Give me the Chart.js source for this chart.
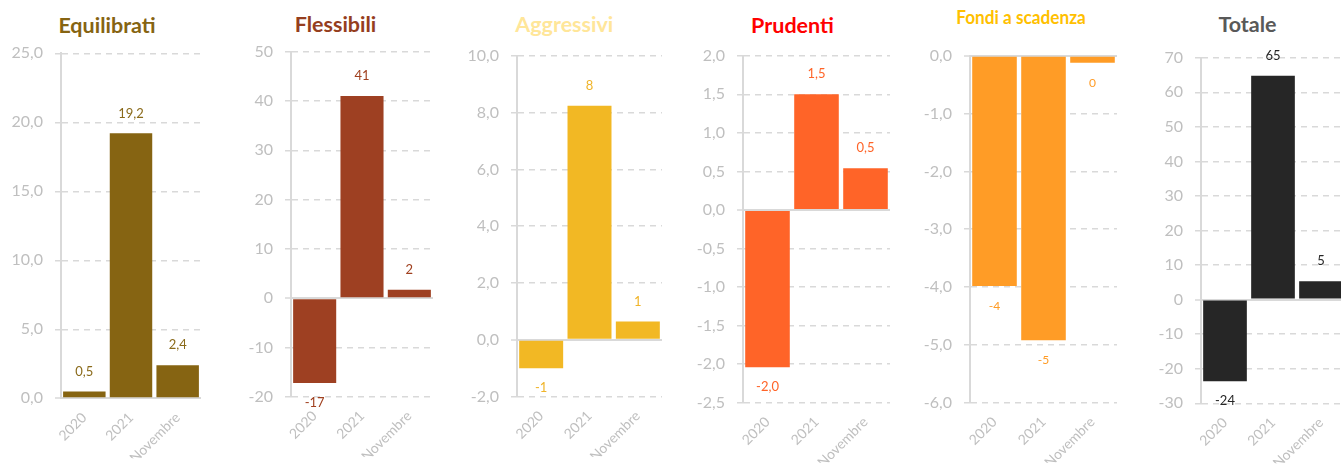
<!DOCTYPE html>
<html>
<head>
<meta charset="utf-8">
<script src="https://cdn.jsdelivr.net/npm/chart.js@4.4.1/dist/chart.umd.min.js"></script>
<style>
  html, body { margin: 0; padding: 0; background: #ffffff; overflow: hidden; }
  #wrap { position: relative; width: 1341px; height: 468px; overflow: hidden; }
  #wrap canvas { position: absolute; top: 0; }
  .title {
    position: absolute;
    font-family: Lato, "Open Sans", sans-serif;
    font-weight: 700;
    line-height: 1;
    white-space: nowrap;
    transform: translateX(-50%);
  }
</style>
</head>
<body>
<div id="wrap"></div>
<script>
// Categories shared by every small chart
const categories = ['2020', '2021', 'Novembre'];

// Net flows per fund type (billions of euro)
const equilibratiValues = [0.5, 19.2, 2.4];
const flessibiliValues = [-17.2, 41.0, 1.7];
const aggressiviValues = [-1.0, 8.24, 0.65];
const prudentiValues = [-2.04, 1.5, 0.54];
const scadenzaValues = [-3.98, -4.92, -0.12];
const totaleValues = [-23.6, 64.8, 5.3];

// Y axis tick values per chart
const equilibratiTicks = [0, 5, 10, 15, 20, 25];
const flessibiliTicks = [-20, -10, 0, 10, 20, 30, 40, 50];
const aggressiviTicks = [-2, 0, 2, 4, 6, 8, 10];
const prudentiTicks = [-2.5, -2, -1.5, -1, -0.5, 0, 0.5, 1, 1.5, 2];
const scadenzaTicks = [-6, -5, -4, -3, -2, -1, 0];
const totaleTicks = [-30, -20, -10, 0, 10, 20, 30, 40, 50, 60, 70];

// Chart titles
const titles = ['Equilibrati', 'Flessibili', 'Aggressivi', 'Prudenti', 'Fondi a scadenza', 'Totale'];

// Italian number format: comma as decimal separator, no "-0"
function fmt(v, decimals) {
  const k = Math.pow(10, decimals);
  let r = Math.round(v * k) / k;
  if (r === 0) r = 0;
  return r.toFixed(decimals).replace('.', ',');
}

const Y_AXIS_W = 60;
const X_AXIS_H = 60;
const H = 468;
const GRID = '#d9d9d9';
const TICK_TEXT = '#bfbfbf';

const panels = [
  { values: equilibratiValues, ticks: equilibratiTicks, tickDec: 1, labelDec: 1,
    bar: '#866412', label: '#8a6a1a', titleColor: '#866412', titleSize: 21.5, titleX: 107, titleTop: 14.5,
    axisX: 61, plotW: 140, top: 53.3, bottom: 398.3, labelSize: 13 },
  { values: flessibiliValues, ticks: flessibiliTicks, tickDec: 0, labelDec: 0,
    bar: '#9e4022', label: '#a0401f', titleColor: '#953e1e', titleSize: 21.5, titleX: 335.5, titleTop: 13.5,
    axisX: 291, plotW: 142, top: 51.7, bottom: 396.7, labelSize: 13 },
  { values: aggressiviValues, ticks: aggressiviTicks, tickDec: 1, labelDec: 0,
    bar: '#f2b824', label: '#f0b429', titleColor: '#ffe699', titleSize: 21.5, titleX: 564.3, titleTop: 14,
    axisX: 517, plotW: 145, top: 55.7, bottom: 396.7, labelSize: 13 },
  { values: prudentiValues, ticks: prudentiTicks, tickDec: 1, labelDec: 1,
    bar: '#ff6428', label: '#ff6428', titleColor: '#ff0000', titleSize: 21.5, titleX: 792.5, titleTop: 14.5,
    axisX: 743.3, plotW: 147, top: 55.7, bottom: 402.7, labelSize: 13 },
  { values: scadenzaValues, ticks: scadenzaTicks, tickDec: 1, labelDec: 0,
    bar: '#ff9c26', label: '#ff9c26', titleColor: '#ffc000', titleSize: 18.5, titleX: 1020.5, titleTop: 7.5,
    axisX: 970, plotW: 147, top: 55.7, bottom: 402.7, labelSize: 12, titleSqueeze: 0.93 },
  { values: totaleValues, ticks: totaleTicks, tickDec: 0, labelDec: 0,
    bar: '#262626', label: '#262626', titleColor: '#595959', titleSize: 21.5, titleX: 1247.5, titleTop: 13.5,
    axisX: 1201, plotW: 144, top: 57.7, bottom: 403.3, labelSize: 13 }
];

// Value written 20px beyond the end of each bar
const valueLabels = {
  id: 'valueLabels',
  afterDatasetsDraw(chart, args, opts) {
    const { ctx } = chart;
    const meta = chart.getDatasetMeta(0);
    const data = chart.data.datasets[0].data;
    ctx.save();
    ctx.font = opts.size + 'px Lato, "Open Sans", sans-serif';
    ctx.fillStyle = opts.color;
    ctx.textAlign = 'center';
    ctx.textBaseline = 'middle';
    meta.data.forEach((bar, i) => {
      const v = data[i];
      const y = v >= 0 ? bar.y - 20 : bar.y + 20;
      ctx.fillText(fmt(v, opts.decimals), bar.x, y);
    });
    ctx.restore();
  }
};

const wrap = document.getElementById('wrap');

panels.forEach((p, idx) => {
  const title = document.createElement('div');
  title.className = 'title';
  title.textContent = titles[idx];
  title.style.left = p.titleX + 'px';
  title.style.top = p.titleTop + 'px';
  title.style.fontSize = p.titleSize + 'px';
  title.style.color = p.titleColor;
  if (p.titleSqueeze) {
    title.style.transform = 'translateX(-50%) scaleX(' + p.titleSqueeze + ')';
  }
  wrap.appendChild(title);

  const w = Y_AXIS_W + p.plotW + 2;
  const cv = document.createElement('canvas');
  cv.width = w;
  cv.height = H;
  cv.style.width = w + 'px';
  cv.style.height = H + 'px';
  cv.style.left = (p.axisX - Y_AXIS_W) + 'px';
  wrap.appendChild(cv);

  const isZero = (ctx) => ctx.tick && Math.abs(ctx.tick.value) < 1e-9;

  new Chart(cv, {
    type: 'bar',
    data: {
      labels: categories,
      datasets: [{
        data: p.values,
        backgroundColor: p.bar,
        borderWidth: 0,
        barPercentage: 0.91,
        categoryPercentage: 1
      }]
    },
    options: {
      responsive: false,
      animation: false,
      devicePixelRatio: 1,
      layout: { padding: { top: p.top, bottom: H - p.bottom - X_AXIS_H, left: 0, right: 2 } },
      plugins: {
        legend: { display: false },
        tooltip: { enabled: false },
        valueLabels: { color: p.label, decimals: p.labelDec, size: p.labelSize }
      },
      scales: {
        x: {
          grid: { display: false, drawTicks: false },
          border: { display: false },
          ticks: {
            color: TICK_TEXT,
            font: { family: 'Lato', size: 14 },
            minRotation: 45,
            maxRotation: 45,
            autoSkip: false,
            padding: 11
          },
          afterFit(scale) { scale.height = X_AXIS_H; }
        },
        y: {
          min: p.ticks[0],
          max: p.ticks[p.ticks.length - 1],
          afterBuildTicks(scale) { scale.ticks = p.ticks.map(v => ({ value: v })); },
          ticks: {
            color: TICK_TEXT,
            font: { family: 'Lato', size: 16 },
            padding: 12,
            callback: (v) => fmt(v, p.tickDec)
          },
          grid: {
            color: GRID,
            lineWidth: (ctx) => isZero(ctx) ? 2 : 1.5,
            tickLength: 6,
            tickColor: GRID,
            tickWidth: 1.5
          },
          border: {
            display: true,
            color: GRID,
            width: 2,
            dash: (ctx) => isZero(ctx) ? [] : [6, 5]
          },
          afterFit(scale) { scale.width = Y_AXIS_W; }
        }
      }
    },
    plugins: [valueLabels]
  });
});
</script>
</body>
</html>
